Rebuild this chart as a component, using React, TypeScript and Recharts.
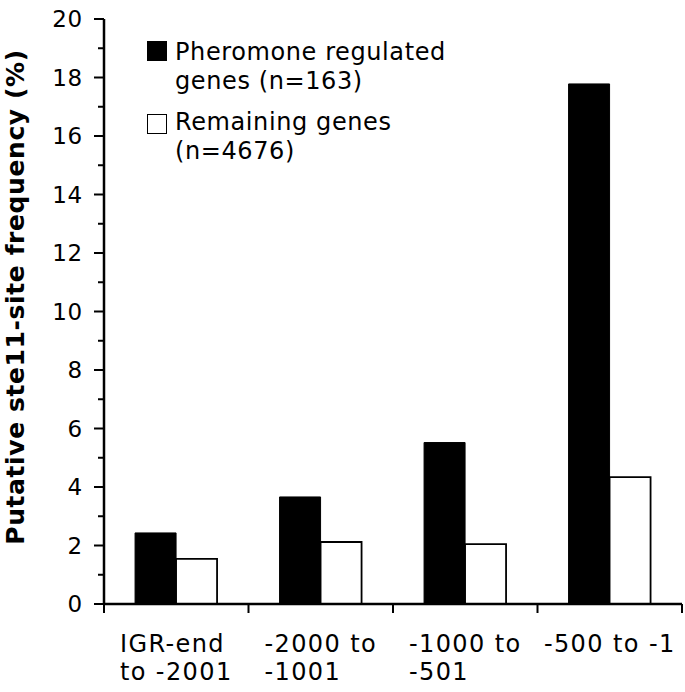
import React from 'react';
import { BarChart, Bar, XAxis, YAxis, Legend } from 'recharts';

// Sites by promoter region (bp upstream of ATG)
const categories = ['IGR-end\nto -2001', '-2000 to\n-1001', '-1000 to\n-501', '-500 to -1'];
const pheromoneRegulated = [2.43, 3.66, 5.52, 17.78];
const remainingGenes = [1.54, 2.12, 2.05, 4.34];
const seriesNames = ['Pheromone regulated genes (n=163)', 'Remaining genes (n=4676)'];
const yTicks = [0, 1, 2, 3, 4, 5, 6, 7, 8, 9, 10, 11, 12, 13, 14, 15, 16, 17, 18, 19, 20];

const data = categories.map((c, i) => ({
  region: c,
  pheromone: pheromoneRegulated[i],
  remaining: remainingGenes[i],
}));

const FONT = '"DejaVu Sans", Verdana, sans-serif';
const W = 685;
const H = 692;
const MARGIN = { top: 19, right: 3, bottom: 0, left: 0 };
const Y_WIDTH = 104;
const X_HEIGHT = 88;
const X_FONT = 24;
const X_SPACING = 1.4; // DejaVu runs a bit narrower than the original Verdana

let ctx: CanvasRenderingContext2D | null = null;
const measure = (s: string, size: number, spacing = 0) => {
  if (!ctx) ctx = document.createElement('canvas').getContext('2d');
  if (!ctx) return s.length * size * 0.6;
  ctx.font = `${size}px ${FONT}`;
  return ctx.measureText(s).width + spacing * s.length;
};

// major ticks get a label, odd values only a short tick
const YTick = ({ x, y, payload }: any) => {
  const axisX = x + 21;
  const major = payload.value % 2 === 0;
  return (
    <g>
      <line x1={axisX - (major ? 10 : 6)} x2={axisX} y1={y} y2={y} stroke="#000" strokeWidth={2} />
      {major && (
        <text x={x} y={y} dy="0.36em" textAnchor="end" fontSize={23} letterSpacing={0.8} fontFamily={FONT} fill="#000">
          {payload.value}
        </text>
      )}
    </g>
  );
};

const XTick = ({ x, y, payload, index }: any) => {
  const half = payload.offset || (W - Y_WIDTH - MARGIN.right) / categories.length / 2;
  const lines = String(payload.value).split('\n');
  const block = Math.max(...lines.map((l) => measure(l, X_FONT, X_SPACING)));
  const left = x - block / 2;
  return (
    <g>
      <line x1={x - half} x2={x - half} y1={y} y2={y + 9} stroke="#000" strokeWidth={2} />
      {index === categories.length - 1 && (
        <line x1={x + half} x2={x + half} y1={y} y2={y + 9} stroke="#000" strokeWidth={2} />
      )}
      {lines.map((l, i) => (
        <text
          key={i}
          x={left}
          y={y + 48 + i * 28}
          textAnchor="start"
          fontSize={X_FONT}
          letterSpacing={X_SPACING}
          fontFamily={FONT}
          fill="#000"
        >
          {l}
        </text>
      ))}
    </g>
  );
};

const LegendBox = ({ payload }: any) => (
  <div style={{ fontFamily: FONT, fontSize: 24, lineHeight: '29px', letterSpacing: 0.6, color: '#000' }}>
    {(payload || []).map((entry: any, i: number) => (
      <div key={i} style={{ display: 'flex', alignItems: 'flex-start', marginTop: i === 0 ? 0 : 12 }}>
        <div
          style={{
            width: 20,
            height: 20,
            marginTop: i === 0 ? 3 : 6,
            marginRight: 8,
            boxSizing: 'border-box',
            background: entry.color,
            border: '1.5px solid #000',
            flexShrink: 0,
          }}
        />
        <div style={{ width: 290 }}>{entry.value}</div>
      </div>
    ))}
  </div>
);

const YLabel = () => (
  <text
    transform="translate(24, 297) rotate(-90)"
    textAnchor="middle"
    fontSize={25}
    fontWeight="bold"
    letterSpacing={0.6}
    fontFamily={FONT}
    fill="#000"
  >
    Putative ste11-site frequency (%)
  </text>
);

export default function App() {
  return (
    <div style={{ position: 'absolute', left: 0, top: 0, background: '#fff' }}>
      <BarChart width={W} height={H} data={data} margin={MARGIN} barCategoryGap="21.5%" barGap={0}>
        <XAxis
          dataKey="region"
          height={X_HEIGHT}
          interval={0}
          tickLine={false}
          tickSize={0}
          tickMargin={0}
          axisLine={{ stroke: '#000', strokeWidth: 2.5 }}
          tick={<XTick />}
        />
        <XAxis
          xAxisId="frame"
          dataKey="region"
          orientation="top"
          height={0}
          tick={false}
          tickLine={false}
          axisLine={{ stroke: '#000', strokeWidth: 2.5 }}
        />
        <YAxis
          width={Y_WIDTH}
          domain={[0, 20]}
          ticks={yTicks}
          interval={0}
          tickLine={false}
          tickSize={10}
          tickMargin={11}
          axisLine={{ stroke: '#000', strokeWidth: 2.5 }}
          tick={<YTick />}
          label={{ content: <YLabel /> }}
        />
        <YAxis
          yAxisId="frame"
          orientation="right"
          width={0}
          domain={[0, 20]}
          tick={false}
          tickLine={false}
          axisLine={{ stroke: '#000', strokeWidth: 2.5 }}
        />
        <Legend
          layout="vertical"
          align="center"
          verticalAlign="middle"
          wrapperStyle={{ left: 147, top: 38, width: 340 }}
          content={<LegendBox />}
        />
        <Bar dataKey="pheromone" name={seriesNames[0]} fill="#000" stroke="#000" strokeWidth={1} isAnimationActive={false} />
        <Bar dataKey="remaining" name={seriesNames[1]} fill="#fff" stroke="#000" strokeWidth={1.8} isAnimationActive={false} />
      </BarChart>
    </div>
  );
}
